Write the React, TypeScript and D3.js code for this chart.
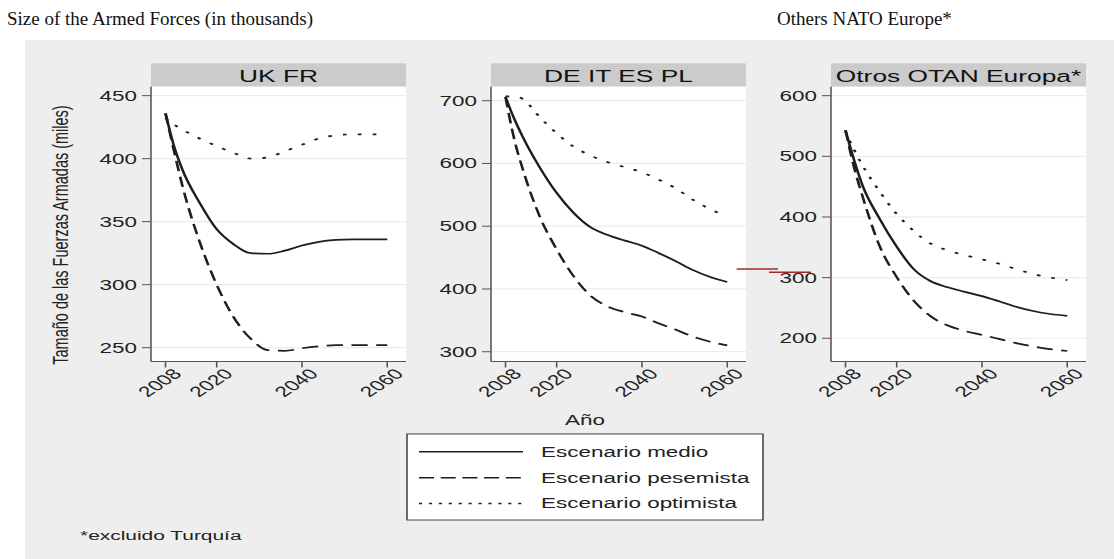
import React from "react";
import * as d3 from "d3";

// ---------- data ----------
const years = [2008, 2010, 2012, 2016, 2020, 2024, 2028, 2032, 2036, 2040, 2044, 2048, 2052, 2056, 2060];

const ukfrMedio = [436, 410, 391, 365, 344, 332, 325, 324.5, 327, 331, 334, 335.5, 336, 336, 336];
const ukfrPesimista = [436, 406, 378, 334, 300, 274, 257, 248, 247.5, 249.5, 251, 252, 252, 252, 252];
const ukfrOptimista = [432.5, 427, 423, 416, 410, 404.5, 400, 401, 406, 411, 416, 418.5, 419.3, 419.3, 419.3];

const deitMedio = [706, 672, 643, 594, 553, 521, 498, 486, 477, 469, 457, 444, 430, 419, 411];
const deitPesimista = [706, 640, 592, 516, 463, 420, 389, 372, 363, 356, 345, 335, 324, 316, 310];
const deitOptimista = [707, 707, 703, 674, 648, 626.5, 612.5, 602, 594, 586, 574, 560, 542, 527, 516];

const otrosMedio = [543, 494, 452, 397, 351, 314, 294, 284, 276.5, 269.5, 261, 252, 245, 240, 237];
const otrosPesimista = [543, 482, 434, 352, 301, 262, 236, 221, 212, 205.5, 199, 192, 186.5, 182, 179];
const otrosOptimista = [541, 511, 485, 442, 405, 377, 356, 345, 337, 330, 323, 314, 306, 300, 296];

const panelTitles = ["UK FR", "DE IT ES PL", "Otros OTAN Europa*"];
const yTicksUkfr = [250, 300, 350, 400, 450];
const yTicksDeit = [300, 400, 500, 600, 700];
const yTicksOtros = [200, 300, 400, 500, 600];
const yDomainUkfr = [239, 457.1];
const yDomainDeit = [284.4, 722.3];
const yDomainOtros = [161.7, 614.8];
const xTicks = [2008, 2020, 2040, 2060];
const xDomain = [2004.6, 2064.4];

const legendLabels = ["Escenario medio", "Escenario pesemista", "Escenario optimista"];
const yAxisTitle = "Tamaño de las Fuerzas Armadas (miles)";
const xAxisTitle = "Año";
const footnote = "*excluido Turquía";
const topTitleLeft = "Size of the Armed Forces (in thousands)";
const topTitleRight = "Others NATO Europe*";

// ---------- layout ----------
const W = 1114;
const H = 559;
const SX = 1.55; // horizontal stretch of the original graph image
const PANEL_LEFTS = [151, 491, 831];
const PANEL_W = 255;
const PLOT_TOP = 86.7;
const PLOT_BOTTOM = 361.5;
const STRIP_TOP = 63.3;
const FONT = "'Liberation Sans', Arial, Helvetica, sans-serif";
const INK = "#1e1e1e";
const AXIS = "#555555";

const curveDash = ["", "10.5 5.5", "2.4 7.2"];
const legendDash = ["", "9.7 4.3", "2 4.4"];

const panels = [
  { title: panelTitles[0], ticks: yTicksUkfr, domain: yDomainUkfr, series: [ukfrMedio, ukfrPesimista, ukfrOptimista] },
  { title: panelTitles[1], ticks: yTicksDeit, domain: yDomainDeit, series: [deitMedio, deitPesimista, deitOptimista] },
  { title: panelTitles[2], ticks: yTicksOtros, domain: yDomainOtros, series: [otrosMedio, otrosPesimista, otrosOptimista] },
];

const n = (x: number) => x / SX; // screen x -> native x

function Panel({ p, i }: { p: any; i: number }) {
  const left = n(PANEL_LEFTS[i]);
  const right = n(PANEL_LEFTS[i] + PANEL_W);
  const x = d3.scaleLinear().domain(xDomain).range([left, right]);
  const y = d3.scaleLinear().domain(p.domain).range([PLOT_BOTTOM, PLOT_TOP]);
  const line = d3
    .line<number>()
    .x((_, k) => x(years[k]))
    .y((d) => y(d))
    .curve(d3.curveMonotoneX);
  return (
    <g>
      <rect x={left} y={STRIP_TOP} width={right - left} height={PLOT_TOP - STRIP_TOP} fill="#cbcbcb" />
      <text
        x={(left + right) / 2}
        y={(STRIP_TOP + PLOT_TOP) / 2 + 1}
        textAnchor="middle"
        dominantBaseline="central"
        fontSize={17}
        fill="#111"
      >
        {p.title}
      </text>
      <rect x={left} y={PLOT_TOP} width={right - left} height={PLOT_BOTTOM - PLOT_TOP} fill="#ffffff" />
      {p.ticks.map((t: number) => (
        <line key={"g" + t} x1={left} x2={right} y1={y(t)} y2={y(t)} stroke="#ebebeb" strokeWidth={1.2} />
      ))}
      {p.series.map((s: number[], k: number) => (
        <path
          key={"s" + k}
          d={line(s) || ""}
          fill="none"
          stroke={INK}
          strokeWidth={1.7}
          strokeDasharray={curveDash[k] || undefined}
        />
      ))}
      <line x1={left} x2={left} y1={PLOT_TOP} y2={PLOT_BOTTOM} stroke={AXIS} strokeWidth={1} />
      <line x1={left} x2={right} y1={PLOT_BOTTOM} y2={PLOT_BOTTOM} stroke={AXIS} strokeWidth={1} />
      {p.ticks.map((t: number) => (
        <g key={"yt" + t}>
          <line x1={left - n(9)} x2={left} y1={y(t)} y2={y(t)} stroke={AXIS} strokeWidth={1} />
          <text
            x={left - n(14)}
            y={y(t)}
            textAnchor="end"
            dominantBaseline="central"
            fontSize={14.5}
            fill="#222"
          >
            {t}
          </text>
        </g>
      ))}
      {xTicks.map((t) => (
        <g key={"xt" + t}>
          <line x1={x(t)} x2={x(t)} y1={PLOT_BOTTOM} y2={PLOT_BOTTOM + 6} stroke={AXIS} strokeWidth={1} />
          <text
            transform={`translate(${x(t) + n(6)},${PLOT_BOTTOM + 6}) rotate(-45)`}
            textAnchor="end"
            dy="0.72em"
            fontSize={14.5}
            fill="#222"
          >
            {t}
          </text>
        </g>
      ))}
    </g>
  );
}

export default function App() {
  const legX0 = n(407);
  const legX1 = n(763);
  const legTop = 434;
  const legBottom = 520;
  const rows = [451.7, 477.7, 503.5];
  return (
    <svg
      width={W}
      height={H}
      viewBox={`0 0 ${W} ${H}`}
      style={{ position: "absolute", left: 0, top: 0, background: "#ffffff" }}
    >
      <rect x={0} y={0} width={W} height={H} fill="#ffffff" />
      <text x={7} y={25} fontFamily="'Liberation Serif', 'DejaVu Serif', serif" fontSize={19} fill="#111">
        {topTitleLeft}
      </text>
      <text x={777} y={25} fontFamily="'Liberation Serif', 'DejaVu Serif', serif" fontSize={19} fill="#111">
        {topTitleRight}
      </text>
      <rect x={25} y={40} width={W - 25} height={H - 40} fill="#eeeeee" />
      <g transform={`scale(${SX},1)`} fontFamily={FONT}>
        {panels.map((p, i) => (
          <Panel key={i} p={p} i={i} />
        ))}
        <text
          transform={`translate(${n(60)},${235}) rotate(-90)`}
          textAnchor="middle"
          dominantBaseline="central"
          fontSize={14.5}
          fill="#222"
        >
          {yAxisTitle}
        </text>
        <text x={n(585)} y={420} textAnchor="middle" dominantBaseline="central" fontSize={14.5} fill="#222">
          {xAxisTitle}
        </text>
        <rect x={legX0} y={legTop} width={legX1 - legX0} height={legBottom - legTop} fill="#ffffff" stroke="#444" strokeWidth={1} />
        {legendLabels.map((lab, k) => (
          <g key={lab}>
            <line
              x1={n(419)}
              x2={n(523)}
              y1={rows[k]}
              y2={rows[k]}
              stroke={INK}
              strokeWidth={1.6}
              strokeDasharray={legendDash[k] || undefined}
            />
            <text x={n(541)} y={rows[k]} dominantBaseline="central" fontSize={14.5} fill="#222">
              {lab}
            </text>
          </g>
        ))}
        <text x={n(80)} y={535} dominantBaseline="central" fontSize={13.5} fill="#222">
          {footnote}
        </text>
      </g>
      <line x1={736.7} x2={778} y1={269} y2={269} stroke="#a32a2a" strokeWidth={1.5} />
      <line x1={769} x2={811} y1={272.3} y2={272.3} stroke="#a32a2a" strokeWidth={1.5} />
    </svg>
  );
}
